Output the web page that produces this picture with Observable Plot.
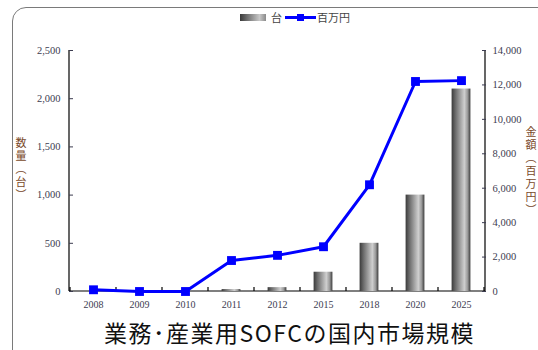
<!DOCTYPE html>
<html>
<head>
<meta charset="utf-8">
<script src="https://cdn.jsdelivr.net/npm/d3@7"></script>
<script src="https://cdn.jsdelivr.net/npm/@observablehq/plot@0.6"></script>
<style>
  html, body { margin: 0; padding: 0; background: #fff; }
  #wrap { position: relative; width: 538px; height: 350px; overflow: hidden; background: #fff; }
  #frame { position: absolute; left: 12px; top: 7px; width: 560px; height: 360px;
           border: 1.5px solid #7a7a7a; border-radius: 14px; box-sizing: border-box; }
  #chart { position: absolute; left: 0; top: 0; }
  .legend { position: absolute; top: 10px; font-family: "Noto Sans CJK JP", sans-serif;
            font-size: 11px; color: #444; line-height: 14px; }
  .ytitle { position: absolute; writing-mode: vertical-rl; text-orientation: upright;
            font-family: "Noto Sans CJK JP", sans-serif; font-size: 11px; line-height: 12px;
            letter-spacing: 2px; color: #7a4a2a; white-space: nowrap; }
  #title { position: absolute; left: 104px; top: 317px; font-family: "Noto Sans CJK JP", sans-serif;
           font-size: 23px; letter-spacing: 1.5px; color: #111; white-space: nowrap; line-height: 30px; }
</style>
</head>
<body>
<div id="wrap">
  <div id="frame"></div>
  <div id="chart"></div>
  <div class="legend" style="left:240px;top:14px;width:26px;height:7px;background:linear-gradient(to right,#3a3a3a,#6a6a6a 25%,#c8c8c8 75%,#8a8a8a);"></div>
  <div class="legend" style="left:271px;">台</div>
  <div class="legend" style="left:285px;top:16px;width:31px;height:3px;background:#0000ff;"></div>
  <div class="legend" style="left:297px;top:14px;width:7px;height:7px;background:#0000ff;"></div>
  <div class="legend" style="left:317px;">百万円</div>
  <div class="ytitle" style="left:15px;top:137px;">数量（台）</div>
  <div class="ytitle" style="left:525px;top:126px;">金額（百万円）</div>
  <div id="title">業務･産業用SOFCの国内市場規模</div>
</div>
<script>
// Survey years (category axis)
const years = ["2008", "2009", "2010", "2011", "2012", "2015", "2018", "2020", "2025"];
// Units installed (bars, left axis, 台)
const units = [0, 0, 0, 20, 40, 200, 500, 1000, 2100];
// Market value (line, right axis, 百万円)
const amounts = [100, 0, 0, 1800, 2100, 2600, 6200, 12200, 12250];
// Axis ticks
const unitTicks = [0, 500, 1000, 1500, 2000, 2500];
const amountTicks = [0, 2000, 4000, 6000, 8000, 10000, 12000, 14000];
const unitMax = 2500;
const amountMax = 14000;

const rows = years.map((year, i) => ({year, units: units[i], amount: amounts[i]}));
// The right axis shares the left y scale: amounts are rescaled onto it.
const ratio = unitMax / amountMax;

// Axis lines, inward category boundary ticks and the cylinder gradient
function frameLines(index, scales, values, dims) {
  const g = d3.create("svg:g");
  const grad = g.append("defs").append("linearGradient").attr("id", "cyl")
    .attr("x1", 0).attr("x2", 1).attr("y1", 0).attr("y2", 0);
  [[0, "#3a3a3a"], [0.2, "#6a6a6a"], [0.68, "#cfcfcf"], [0.85, "#9a9a9a"], [1, "#3c3c3c"]]
    .forEach(([o, c]) => grad.append("stop").attr("offset", o).attr("stop-color", c));
  const x0 = dims.marginLeft, x1 = dims.width - dims.marginRight;
  const yTop = dims.marginTop, yBot = dims.height - dims.marginBottom;
  const line = (a, b, c, d) => g.append("line").attr("x1", a).attr("y1", b).attr("x2", c).attr("y2", d)
    .attr("stroke", "#000").attr("stroke-width", 1.2);
  line(x0, yTop, x0, yBot);
  line(x1, yTop, x1, yBot);
  line(x0, yBot, x1, yBot);
  const step = scales.x(years[1]) - scales.x(years[0]);
  const edges = years.map(y => scales.x(y)).concat([scales.x(years[years.length - 1]) + step]);
  edges.forEach(e => line(e, yBot, e, yBot - 4));
  return g.node();
}

const chart = Plot.plot({
  width: 538,
  height: 350,
  marginLeft: 69,
  marginRight: 53,
  marginTop: 50,
  marginBottom: 59,
  x: {type: "band", domain: years, padding: 0, label: null},
  y: {domain: [0, unitMax], label: null},
  style: {background: "transparent", fontFamily: "Liberation Serif, serif", fontSize: "10.5px", color: "#3c3c50"},
  marks: [
    frameLines,
    Plot.barY(rows, {x: "year", y: "units", fill: "url(#cyl)", insetLeft: 13.6, insetRight: 13.6}),
    Plot.axisY({anchor: "left", ticks: unitTicks, tickSize: -4, tickPadding: 13,
                tickFormat: d3.format(","), label: null}),
    Plot.axisY({anchor: "right", ticks: amountTicks.map(v => v * ratio), tickSize: -4, tickPadding: 11,
                tickFormat: v => d3.format(",")(Math.round(v / ratio)), label: null}),
    Plot.axisX({tickSize: 0, tickPadding: 9, label: null, fontSize: 10}),
    Plot.line(rows, {x: "year", y: d => d.amount * ratio, stroke: "#0000ff", strokeWidth: 3}),
    Plot.dot(rows, {x: "year", y: d => d.amount * ratio, symbol: "square", r: 5, fill: "#0000ff"})
  ]
});
document.getElementById("chart").appendChild(chart);
</script>
</body>
</html>
